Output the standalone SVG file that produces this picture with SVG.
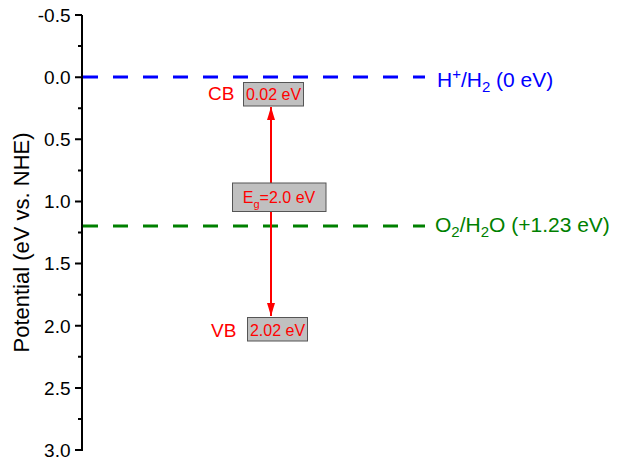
<svg xmlns="http://www.w3.org/2000/svg" width="621" height="461" viewBox="0 0 621 461">
<style>
text{font-family:"Liberation Sans",Arial,sans-serif}
.tl{font-size:19px;text-anchor:end;fill:#000}
.ax{stroke:#000;stroke-width:2;fill:none}
.box{fill:#c0c0c0;stroke:#555;stroke-width:1}
.rt{fill:#f00;font-size:16px}
</style>
<defs>
<marker id="ah" viewBox="0 0 13 8" refX="13" refY="4" markerWidth="13" markerHeight="8" markerUnits="userSpaceOnUse" orient="auto-start-reverse">
<path d="M0,0 L13,4 L0,8 Z" fill="#f00"/>
</marker>
</defs>
<rect width="621" height="461" fill="#fff"/>
<g id="axis">
<path class="ax" d="M82,15 V451 M75,15 H82 M75,77.2 H82 M75,139.3 H82 M75,201.5 H82 M75,263.6 H82 M75,325.8 H82 M75,387.9 H82 M75,450 H82 M78,46.1 H82 M78,108.2 H82 M78,170.4 H82 M78,232.5 H82 M78,294.7 H82 M78,356.8 H82 M78,419 H82"/>
<text class="tl" x="70.5" y="21.8">-0.5</text>
<text class="tl" x="70.5" y="84">0.0</text>
<text class="tl" x="70.5" y="146.1">0.5</text>
<text class="tl" x="70.5" y="208.3">1.0</text>
<text class="tl" x="70.5" y="270.4">1.5</text>
<text class="tl" x="70.5" y="332.6">2.0</text>
<text class="tl" x="70.5" y="394.7">2.5</text>
<text class="tl" x="70.5" y="456.8">3.0</text>
<text transform="translate(29,242.5) rotate(-90)" text-anchor="middle" font-size="22">Potential (eV vs. NHE)</text>
</g>
<g id="connectors">
<line x1="83" y1="77" x2="425" y2="77" stroke="#0000ff" stroke-width="3" stroke-dasharray="15,15"/>
<line x1="83" y1="226" x2="425" y2="226" stroke="#008000" stroke-width="3" stroke-dasharray="15,15"/>
<line x1="271" y1="107" x2="271" y2="316" stroke="#f00" stroke-width="2" marker-start="url(#ah)" marker-end="url(#ah)"/>
</g>
<g id="h-label"><text x="437" y="86.5" font-size="21" fill="#0000ff">H<tspan dy="-8" font-size="15">+</tspan><tspan dy="8">/H</tspan><tspan dy="5" font-size="15">2</tspan><tspan dy="-5"> (0 eV)</tspan></text></g>
<g id="o-label"><text x="435" y="232" font-size="21" fill="#008000">O<tspan dy="5" font-size="15">2</tspan><tspan dy="-5">/H</tspan><tspan dy="5" font-size="15">2</tspan><tspan dy="-5">O (+1.23 eV)</tspan></text></g>
<g id="cb">
<text x="208" y="100" fill="#f00" font-size="19">CB</text>
<rect class="box" x="243.5" y="82.5" width="60" height="23.5"/>
<text class="rt" x="273.5" y="99.5" text-anchor="middle">0.02 eV</text>
</g>
<g id="eg">
<rect class="box" x="232.5" y="183" width="93.5" height="28.5"/>
<text class="rt" x="279" y="203" text-anchor="middle">E<tspan dy="5" font-size="11">g</tspan><tspan dy="-5">=2.0 eV</tspan></text>
</g>
<g id="vb">
<text x="211" y="336.5" fill="#f00" font-size="19">VB</text>
<rect class="box" x="247.5" y="317.5" width="60" height="23.5"/>
<text class="rt" x="277.5" y="335.5" text-anchor="middle">2.02 eV</text>
</g>
</svg>
